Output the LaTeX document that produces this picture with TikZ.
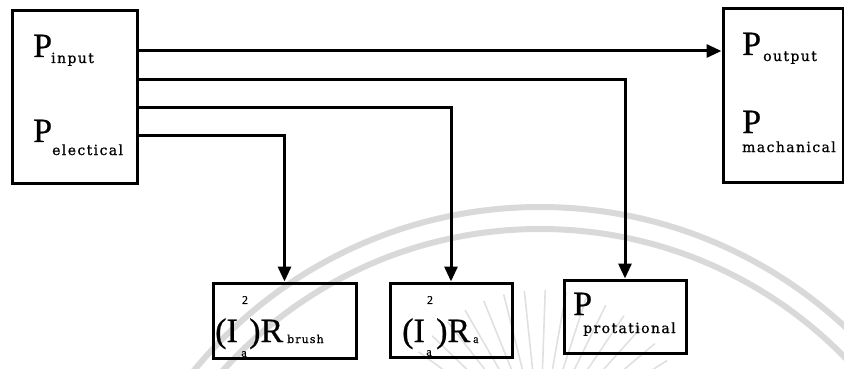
\documentclass[tikz,border=0pt]{standalone}
\usepackage{fontspec}
\setmainfont[FakeBold=0.6]{Liberation Serif}
\newfontfamily\subfont[LetterSpace=10,FakeBold=0.8]{DejaVu Serif}
\usetikzlibrary{arrows.meta}
\begin{document}
\begin{tikzpicture}[x=1pt,y=-1pt,
  box/.style={draw, line width=3pt, inner sep=0pt},
  flow/.style={line width=3pt, -{Triangle[length=15pt,width=13pt]}},
  big/.style={inner sep=0pt, anchor=base west, font=\fontsize{34}{34}\selectfont},
  sub/.style={inner sep=0pt, anchor=base west, font=\subfont\fontsize{14}{14}\selectfont},
  tiny/.style={inner sep=0pt, font=\fontsize{12}{12}\selectfont},
  wm/.style={draw=black!15, line width=6pt},
  ray/.style={draw=black!12, line width=1.6pt}
]
\useasboundingbox (0,0) rectangle (844,369);

% faint logo in the background
\begin{scope}
  \clip (0,0) rectangle (844,369);
  \draw[wm] (540,655) circle[radius=448];
  \draw[wm] (540,655) circle[radius=426];
  \foreach \a in {-160,-152,...,-20}
    \draw[ray, shift={(540,440)}] (\a:70) -- (\a:150);
\end{scope}

% boxes
\node[box, minimum width=125pt, minimum height=172pt] (L) at (74.5,97) {};
\node[box, minimum width=120pt, minimum height=173pt] (O) at (783,95.5) {};
\node[box, minimum width=143pt, minimum height=75pt] (B1) at (284.5,320.5) {};
\node[box, minimum width=122pt, minimum height=74pt] (B2) at (451,320) {};
\node[box, minimum width=122pt, minimum height=73pt] (B3) at (625,316.5) {};

% labels of the input box
\node[big] (pin) at (33,57) {P};
\node[sub] (pinsub) at (51,63) {input};
\node[big] (pel) at (33,142) {P};
\node[sub] (pelsub) at (52,155) {electical};

% labels of the output box
\node[big] (pout) at (742,55) {P};
\node[sub] (poutsub) at (763,61) {output};
\node[big] (pmech) at (742,133) {P};
\node[sub] (pmechsub) at (742,152) {machanical};

% brush loss
\node[big] (b1a) at (215,342) {(I};
\node[tiny] (b1sq) at (245,300) {2};
\node[tiny] (b1ia) at (244,354) {a};
\node[big] (b1b) at (249,342) {)R};
\node[sub, font=\subfont\fontsize{11}{11}\selectfont] (b1br) at (287,343) {brush};

% armature loss
\node[big] (b2a) at (402,342) {(I};
\node[tiny] (b2sq) at (430,300) {2};
\node[tiny] (b2ia) at (429,353) {a};
\node[big] (b2b) at (436,342) {)R};
\node[tiny, anchor=base west] (b2ra) at (473,343) {a};

% rotational loss
\node[big] (b3p) at (573,315) {P};
\node[sub] (b3sub) at (583,333) {protational};

% power flow
\draw[flow] (L.east |- 0,51) -- (O.west |- 0,51);
\draw[flow] (L.east |- 0,80) -| (B3.north);
\draw[flow] (L.east |- 0,108) -| (B2.north);
\draw[flow] (L.east |- 0,135) -| (B1.north);
\end{tikzpicture}
\end{document}
